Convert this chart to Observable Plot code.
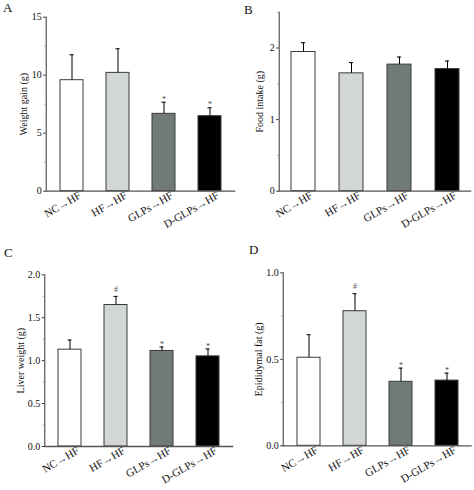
<!DOCTYPE html>
<html><head><meta charset="utf-8">
<script src="https://cdn.jsdelivr.net/npm/d3@7"></script>
<script src="https://cdn.jsdelivr.net/npm/@observablehq/plot@0.6"></script>
<style>
body{margin:0;background:#fff;}
#wrap{position:relative;width:474px;height:490px;background:#fff;}
.panel{position:absolute;}
.lab{position:absolute;font-size:13px;line-height:13px;font-family:"Liberation Serif",serif;color:#111;}
</style></head><body><div id="wrap"></div>
<script>
const groups = ["NC→HF", "HF→HF", "GLPs→HF", "D-GLPs→HF"];
const fills = ["#ffffff", "#d2d7d6", "#6f7a79", "#000000"];

const weightGain = [9.57, 10.2, 6.67, 6.47];
const weightGainErr = [2.19, 2.08, 1.0, 0.72];
const weightGainSig = ["", "", "*", "*"];

const foodIntake = [1.944, 1.646, 1.768, 1.706];
const foodIntakeErr = [0.13, 0.15, 0.106, 0.112];
const foodIntakeSig = ["", "", "", ""];

const liverWeight = [1.128, 1.648, 1.113, 1.05];
const liverWeightErr = [0.112, 0.10, 0.046, 0.086];
const liverWeightSig = ["", "#", "*", "*"];

const epiFat = [0.509, 0.778, 0.37, 0.377];
const epiFatErr = [0.133, 0.101, 0.079, 0.043];
const epiFatSig = ["", "#", "*", "*"];

const panels = [
  {letter: "A", label: "Weight gain (g)", values: weightGain, errs: weightGainErr, sig: weightGainSig,
   domain: [0, 15], ticks: [0, 5, 10, 15], minor: [2.5, 7.5, 12.5], fmt: d3.format("d"),
   left: 0, top: 0, mL: 45.7, frameW: 189.7, mT: 16.7, mB: 54.3, po: 0.285, labDx: -22.5, lx: 3, ly: 1},
  {letter: "B", label: "Food intake (g)", values: foodIntake, errs: foodIntakeErr, sig: foodIntakeSig,
   domain: [0, 2.5], ticks: [0, 1, 2], minor: [0.5, 1.5, 2.5], fmt: d3.format("d"),
   left: 237, top: 0, mL: 41.7, frameW: 192.6, mT: 11.7, mB: 54.3, po: 0.24, labDx: -19.5, lx: 244, ly: 3},
  {letter: "C", label: "Liver weight (g)", values: liverWeight, errs: liverWeightErr, sig: liverWeightSig,
   domain: [0, 2], ticks: [0, 0.5, 1, 1.5, 2], minor: [0.25, 0.75, 1.25, 1.75], fmt: d3.format(".1f"),
   left: 0, top: 245, mL: 44.3, frameW: 189, mT: 29.3, mB: 44, po: 0.27, labDx: -24.5, lx: 4, ly: 246},
  {letter: "D", label: "Epididymal fat (g)", values: epiFat, errs: epiFatErr, sig: epiFatSig,
   domain: [0, 1], ticks: [0, 0.5, 1], minor: [0.25, 0.75], fmt: d3.format(".1f"),
   left: 237, top: 245, mL: 45.7, frameW: 189, mT: 27.3, mB: 44.7, po: 0.27, labDx: -24.5, lx: 249, ly: 243}
];

const wrap = document.getElementById("wrap");
const axisColor = "#333";

for (const p of panels) {
  const rows = groups.map((g, i) => ({g, v: p.values[i], e: p.values[i] + p.errs[i], fill: fills[i], sig: p.sig[i]}));
  const step = p.frameW / (4 - 0.5 + 2 * p.po);
  const bw = step * 0.5;
  const capInset = bw / 2 - 2.2;
  const W = 237, H = 245;
  const chart = Plot.plot({
    width: W, height: H,
    marginLeft: p.mL, marginRight: W - p.mL - p.frameW, marginTop: p.mT, marginBottom: p.mB,
    style: {fontFamily: "Liberation Serif, serif", fontSize: "10px", color: "#111", background: "transparent", overflow: "visible"},
    x: {domain: groups, paddingInner: 0.5, paddingOuter: p.po, align: 0.5, label: null, axis: null},
    y: {domain: p.domain, label: null},
    marks: [
      Plot.barY(rows, {x: "g", y: "v", fill: "fill", stroke: "#3a3a3a", strokeWidth: 1}),
      Plot.ruleX(rows, {x: "g", y1: "v", y2: "e", stroke: "#000", strokeWidth: 1}),
      Plot.tickY(rows, {x: "g", y: "e", stroke: "#000", strokeWidth: 1, insetLeft: capInset, insetRight: capInset}),
      Plot.text(rows.filter(d => d.sig === "*"), {x: "g", y: "e", text: "sig", dy: -3, fill: "#444", fontSize: 8}),
      Plot.text(rows.filter(d => d.sig === "#"), {x: "g", y: "e", text: "sig", dy: -7, fill: "#555", fontSize: 8}),
      Plot.frame({anchor: "left", stroke: axisColor, strokeWidth: 1}),
      Plot.ruleY([0], {stroke: "#555", strokeWidth: 1.3}),
      Plot.axisY({ticks: p.ticks, tickFormat: p.fmt, tickSize: 2.5, tickPadding: 2, stroke: axisColor, label: null, fontSize: 10}),
      Plot.axisY({ticks: p.minor, tickFormat: () => "", tickSize: 1.5, stroke: "#999", label: null}),
      Plot.text(rows, {x: "g", frameAnchor: "bottom", text: "g", rotate: -30, textAnchor: "end", lineAnchor: "top", dx: 6, dy: -0.5, fontSize: 11, fill: "#111"}),
      Plot.text([p.label], {frameAnchor: "left", rotate: -90, textAnchor: "middle", dx: p.labDx, text: d => d, fontSize: 10, fill: "#111"})
    ]
  });
  chart.classList.add("panel");
  chart.style.left = p.left + "px";
  chart.style.top = p.top + "px";
  wrap.appendChild(chart);
  const lab = document.createElement("div");
  lab.className = "lab";
  lab.textContent = p.letter;
  lab.style.left = p.lx + "px";
  lab.style.top = p.ly + "px";
  wrap.appendChild(lab);
}
</script></body></html>
